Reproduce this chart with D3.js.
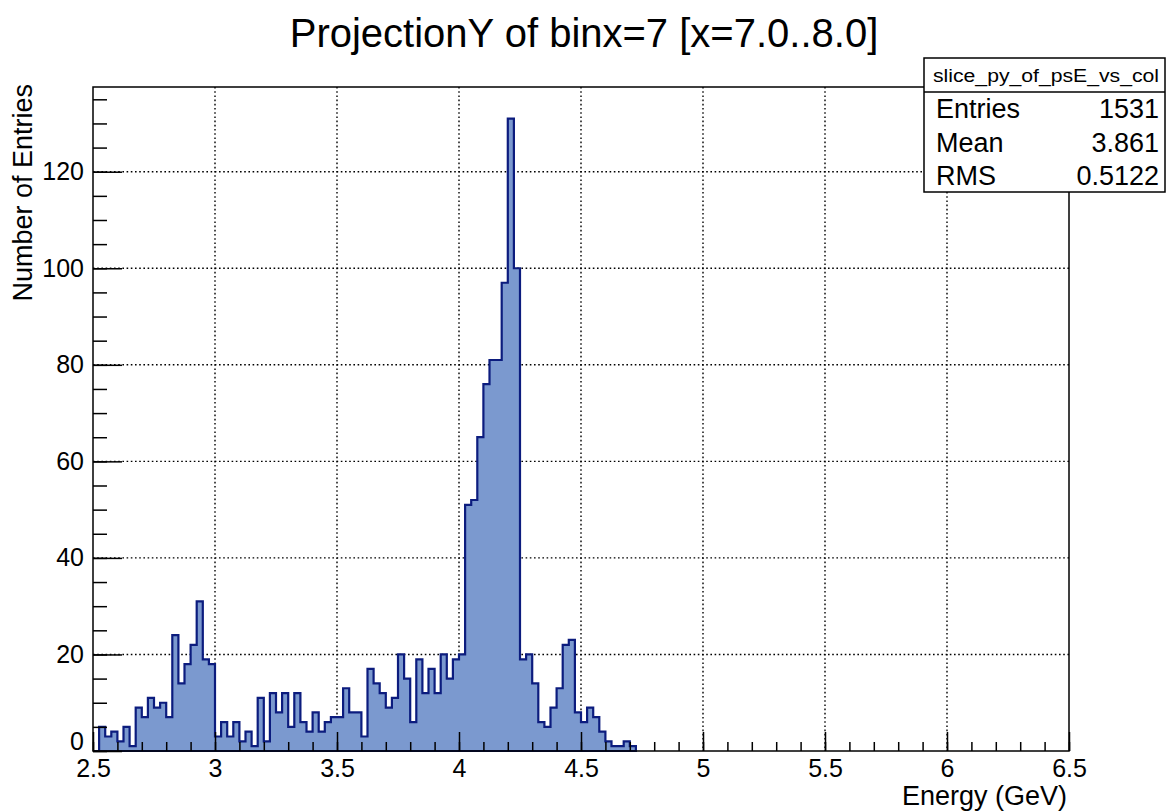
<!DOCTYPE html>
<html>
<head>
<meta charset="utf-8">
<script src="https://cdn.jsdelivr.net/npm/d3@7"></script>
<style>
  body { margin: 0; background: #fff; }
  svg { display: block; font-family: "Liberation Sans", Arial, Helvetica, sans-serif; }
</style>
</head>
<body>
<div id="chart"></div>
<script>
// histogram binning (GeV)
const binLow = 2.5;
const binWidth = 0.025;

// counts per bin, starting at 2.5 GeV
const counts = [
  0, 5, 3, 4, 2, 5, 1, 9, 7, 11, 9, 10, 7, 24, 14, 18, 22, 31, 19, 18,
  3, 6, 3, 6, 2, 4, 1, 11, 2, 12, 8, 12, 5, 12, 6, 4, 8, 4, 6, 7,
  7, 13, 8, 8, 3, 17, 14, 12, 9, 11, 20, 15, 6, 19, 12, 17, 12, 20, 15, 19,
  20, 51, 52, 65, 76, 81, 81, 97, 131, 100, 19, 20, 14, 6, 5, 9, 13, 22, 23, 8,
  6, 9, 7, 4, 2, 1, 1, 2, 1
];

const xMajor = [2.5, 3, 3.5, 4, 4.5, 5, 5.5, 6, 6.5];
const yMajor = [0, 20, 40, 60, 80, 100, 120];

const titleText = "ProjectionY of binx=7 [x=7.0..8.0]";
const xTitle = "Energy (GeV)";
const yTitle = "Number of Entries";

const statsName = "slice_py_of_psE_vs_col";
const statsLabels = ["Entries", "Mean", "RMS"];
const statsValues = ["1531", "3.861", "0.5122"];

const width = 1166, height = 812;
const padL = 93, padR = 1069, padT = 87, padB = 751;

const svg = d3.select("#chart").append("svg")
    .attr("width", width)
    .attr("height", height);

const x = d3.scaleLinear().domain([2.5, 6.5]).range([padL, padR]);
const yMax = d3.max(counts) * 1.05;
const y = d3.scaleLinear().domain([0, yMax]).range([padB, padT]);

// grid
const grid = svg.append("g")
    .attr("stroke", "#000")
    .attr("stroke-width", 1.4)
    .attr("stroke-dasharray", "1.6,2.6");

grid.selectAll("line.gx")
    .data(xMajor.slice(1, -1))
  .enter().append("line")
    .attr("x1", d => x(d)).attr("x2", d => x(d))
    .attr("y1", padT).attr("y2", padB);

grid.selectAll("line.gy")
    .data(yMajor.slice(1))
  .enter().append("line")
    .attr("y1", d => y(d)).attr("y2", d => y(d))
    .attr("x1", padL).attr("x2", padR);

// histogram as one step path
const path = d3.path();
path.moveTo(x(binLow), y(0));
counts.forEach((c, i) => {
  const lo = binLow + i * binWidth;
  path.lineTo(x(lo), y(c));
  path.lineTo(x(lo + binWidth), y(c));
});
path.lineTo(x(binLow + counts.length * binWidth), y(0));
path.closePath();

svg.append("path")
    .attr("d", path.toString())
    .attr("fill", "#7b99cf")
    .attr("stroke", "#0c1c7e")
    .attr("stroke-width", 2.2)
    .attr("stroke-linejoin", "miter");

// axes, ticks pointing inwards
const fmt = d => String(+d.toFixed(1));

const xMinor = d3.range(25, 66).map(d => d / 10);
svg.append("g")
    .attr("transform", `translate(0,${padB})`)
    .call(d3.axisBottom(x).tickValues(xMinor).tickSizeInner(-9).tickSizeOuter(0).tickFormat(""))
    .call(g => g.select(".domain").remove());

svg.append("g")
    .attr("class", "xaxis")
    .attr("transform", `translate(0,${padB})`)
    .call(d3.axisBottom(x).tickValues(xMajor).tickSizeInner(-19).tickSizeOuter(0).tickPadding(8).tickFormat(fmt))
    .call(g => g.select(".domain").remove());

const yMinor = d3.range(0, yMax, 5);
svg.append("g")
    .attr("transform", `translate(${padL},0)`)
    .call(d3.axisLeft(y).tickValues(yMinor).tickSizeInner(-14).tickSizeOuter(0).tickFormat(""))
    .call(g => g.select(".domain").remove());

svg.append("g")
    .attr("class", "yaxis")
    .attr("transform", `translate(${padL},0)`)
    .call(d3.axisLeft(y).tickValues(yMajor).tickSizeInner(-29).tickSizeOuter(0).tickPadding(9).tickFormat(fmt))
    .call(g => g.select(".domain").remove());

svg.selectAll(".tick line").attr("stroke", "#000").attr("stroke-width", 1.5);
svg.selectAll(".xaxis text, .yaxis text")
    .attr("fill", "#000")
    .style("font-size", "25px")
    .style("font-family", "'Liberation Sans', Arial, sans-serif");
// lift the zero label so it clears the 2.5 below it
svg.selectAll(".yaxis .tick text").filter(d => d === 0).attr("dy", "-0.05em");

// frame
svg.append("rect")
    .attr("x", padL).attr("y", padT)
    .attr("width", padR - padL).attr("height", padB - padT)
    .attr("fill", "none")
    .attr("stroke", "#000")
    .attr("stroke-width", 1.5);

// titles
svg.append("text")
    .attr("x", 584).attr("y", 47)
    .attr("text-anchor", "middle")
    .style("font-size", "40px")
    .text(titleText);

svg.append("text")
    .attr("x", padR - 2).attr("y", 805)
    .attr("text-anchor", "end")
    .style("font-size", "27px")
    .text(xTitle);

svg.append("text")
    .attr("transform", `translate(32,${padT - 3}) rotate(-90)`)
    .attr("text-anchor", "end")
    .style("font-size", "27px")
    .text(yTitle);

// stats box
const sb = { x0: 924, x1: 1165, y0: 58, y1: 192, ySep: 92 };
const stats = svg.append("g");
stats.append("rect")
    .attr("x", sb.x0).attr("y", sb.y0)
    .attr("width", sb.x1 - sb.x0).attr("height", sb.y1 - sb.y0)
    .attr("fill", "#fff")
    .attr("stroke", "#000")
    .attr("stroke-width", 1.5);
stats.append("line")
    .attr("x1", sb.x0).attr("x2", sb.x1)
    .attr("y1", sb.ySep).attr("y2", sb.ySep)
    .attr("stroke", "#000")
    .attr("stroke-width", 1.5);
stats.append("text")
    .attr("x", 933).attr("y", 82)
    .attr("textLength", 226)
    .attr("lengthAdjust", "spacingAndGlyphs")
    .style("font-size", "18px")
    .text(statsName);

const rowY = [118, 152, 185];
stats.selectAll("text.lab")
    .data(statsLabels)
  .enter().append("text")
    .attr("x", 936)
    .attr("y", (d, i) => rowY[i])
    .style("font-size", "27px")
    .text(d => d);
stats.selectAll("text.val")
    .data(statsValues)
  .enter().append("text")
    .attr("x", 1159)
    .attr("y", (d, i) => rowY[i])
    .attr("text-anchor", "end")
    .style("font-size", "27px")
    .text(d => d);
</script>
</body>
</html>
